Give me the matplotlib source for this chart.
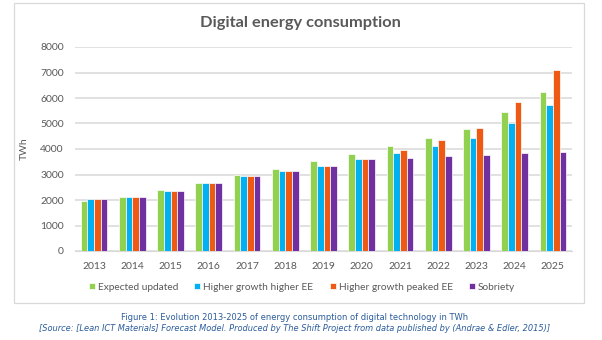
import matplotlib.pyplot as plt
import numpy as np
from matplotlib.patches import Rectangle

years = ["2013", "2014", "2015", "2016", "2017", "2018", "2019",
         "2020", "2021", "2022", "2023", "2024", "2025"]
expected_updated = [1980, 2130, 2380, 2660, 2990, 3230, 3520, 3820, 4130, 4440, 4790, 5470, 6250]
higher_growth_higher_ee = [2020, 2130, 2350, 2670, 2950, 3130, 3320, 3610, 3860, 4130, 4430, 5000, 5730]
higher_growth_peaked_ee = [2020, 2130, 2350, 2670, 2950, 3130, 3320, 3610, 3970, 4360, 4810, 5840, 7100]
sobriety = [2020, 2130, 2350, 2670, 2950, 3130, 3320, 3610, 3650, 3730, 3770, 3840, 3890]

series = [
    ("Expected updated", expected_updated, "#92D050"),
    ("Higher growth higher EE", higher_growth_higher_ee, "#00B0F0"),
    ("Higher growth peaked EE", higher_growth_peaked_ee, "#EE5A14"),
    ("Sobriety", sobriety, "#7030A0"),
]

text_gray = "#595959"
chart_font = ["Lato", "DejaVu Sans"]

fig = plt.figure(figsize=(6.02, 3.4), dpi=100)
W, H = 602, 340

# chart frame
fig.patches.append(Rectangle((14 / W, 1 - 303 / H), 570 / W, 300 / H,
                             transform=fig.transFigure, fill=False,
                             edgecolor="#D9D9D9", linewidth=0.9))

ax = fig.add_axes([75 / W, 1 - 251 / H, 497 / W, 204 / H])
x = np.arange(len(years))
bw = 0.175
for i, (name, vals, color) in enumerate(series):
    ax.bar(x + (i - 1.5) * bw, vals, bw, color=color, edgecolor="white",
           linewidth=0.5, label=name, zorder=3)

ax.set_ylim(0, 8000)
ax.set_xlim(-0.5, len(years) - 0.5)
ax.set_yticks(range(0, 8001, 1000))
ax.set_xticks(x)
ax.set_xticklabels(years)
ax.grid(axis="y", color="#D9D9D9", linewidth=1.1, zorder=0)
for s in ["top", "right", "left"]:
    ax.spines[s].set_visible(False)
ax.spines["bottom"].set_color("#D9D9D9")
ax.tick_params(length=0, labelsize=7.5, labelcolor=text_gray, pad=8)
for lab in ax.get_xticklabels() + ax.get_yticklabels():
    lab.set_family(chart_font)
ax.set_ylabel("TWh", fontsize=7.5, color=text_gray, family=chart_font, labelpad=8)

fig.text(300 / W, 1 - 23 / H, "Digital energy consumption", ha="center", va="center",
         fontsize=11.8, fontweight="bold", color=text_gray, family=chart_font)

leg = fig.legend(loc="center", bbox_to_anchor=(302 / W, 1 - 287 / H), ncol=4,
                 frameon=False, handlelength=0.6, handleheight=0.6,
                 handletextpad=0.3, columnspacing=1.6, prop={"family": chart_font, "size": 7.3})
for t in leg.get_texts():
    t.set_color(text_gray)

cap_color = "#2B5C9B"
fig.text(295 / W, 1 - 317 / H, "Figure 1: Evolution 2013-2025 of energy consumption of digital technology in TWh",
         ha="center", va="center", fontsize=6.0, color=cap_color)
fig.text(295 / W, 1 - 328.5 / H,
         "[Source: [Lean ICT Materials] Forecast Model. Produced by The Shift Project from data published by (Andrae & Edler, 2015)]",
         ha="center", va="center", fontsize=5.95, color=cap_color, style="italic")

fig.savefig("out.png", dpi=100, facecolor="white")
